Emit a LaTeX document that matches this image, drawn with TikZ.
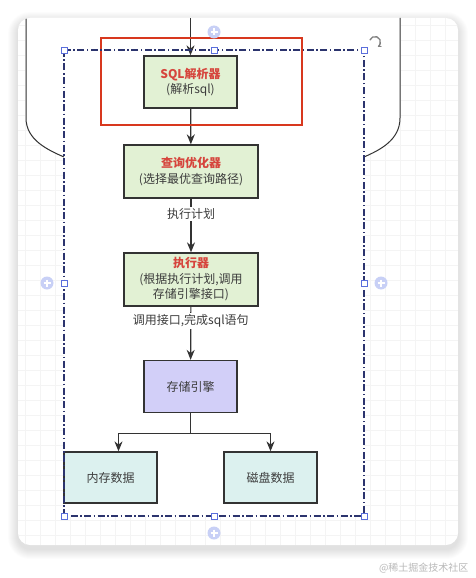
\documentclass[tikz,border=0pt]{standalone}
\usepackage{fontspec}
\setmainfont{Noto Sans CJK SC}
\usetikzlibrary{arrows.meta,positioning,calc}
\definecolor{LineD}  {RGB}{51, 51, 51}
\definecolor{TextD}  {RGB}{60, 60, 60}
\definecolor{HeadR}  {RGB}{214, 69, 61}
\definecolor{MarkR}  {RGB}{216, 56, 30}
\definecolor{GreenF} {RGB}{226, 241, 212}
\definecolor{LavF}   {RGB}{210, 207, 248}
\definecolor{CyanF}  {RGB}{220, 241, 239}
\definecolor{SelN}   {RGB}{44, 52, 110}
\definecolor{HandleB}{RGB}{90, 110, 220}
\definecolor{HandleL}{RGB}{200, 208, 246}
\definecolor{GridG}  {RGB}{244, 244, 244}

\begin{document}
\begin{tikzpicture}[x=1pt,y=-1pt,
    box/.style={draw=LineD,line width=1.3pt,align=center,text=TextD,
      font=\fontsize{12}{15.5}\selectfont,inner sep=0pt},
    flow/.style={draw=LineD,line width=1.2pt,-{Stealth[length=10pt,width=8pt]}},
    lbl/.style={fill=white,text=TextD,font=\fontsize{12}{14}\selectfont,inner sep=1.5pt},
    handle/.style={draw=HandleB,fill=white,line width=0.8pt,minimum size=6pt,inner sep=0pt}]
  \useasboundingbox (0,0) rectangle (476,578);
  \fill[white] (0,0) rectangle (476,578);
  % card with soft shadow
  \foreach \i in {1,...,10}
    \fill[black,opacity=0.012,rounded corners=12+\i]
      (18-\i,18-\i+4) rectangle (458+\i,545+\i+4);
  \fill[white,rounded corners=12] (18,18) rectangle (458,545);
  \begin{scope}
    \clip[rounded corners=12] (18,18) rectangle (458,545);
    \foreach \g in {25,40,...,460} \draw[GridG,line width=0.6pt] (\g,18) -- (\g,545);
    \foreach \g in {25,40,...,545} \draw[GridG,line width=0.6pt] (18,\g) -- (458,\g);
    % white area of the server shape and the group
    \fill[white] (26,10) -- (26,118) .. controls (26,140) and (48,150) .. (64,157)
      -- (64,516) -- (364,516) -- (364,157)
      .. controls (380,150) and (400,140) .. (400,118) -- (400,10) -- cycle;
    \draw[LineD,line width=1pt] (26,10) -- (26,118)
      .. controls (26,140) and (48,150) .. (64,157);
    \draw[LineD,line width=1pt] (400,10) -- (400,118)
      .. controls (400,140) and (380,150) .. (364,157);
  \end{scope}

  % nodes
  \node[box,fill=GreenF,minimum width=93pt,minimum height=52pt] (sqlparse) at (190.5,82)
    {{\color{HeadR}\bfseries SQL解析器}\\(解析sql)};
  \node[box,fill=GreenF,minimum width=134pt,minimum height=53pt] (optimizer) at (191,171.5)
    {{\color{HeadR}\bfseries 查询优化器}\\(选择最优查询路径)};
  \node[box,fill=GreenF,minimum width=134pt,minimum height=53pt] (executor) at (191,279.5)
    {{\color{HeadR}\bfseries 执行器}\\(根据执行计划,调用\\存储引擎接口)};
  \node[box,fill=LavF,minimum width=93pt,minimum height=52pt] (engine) at (190.5,386.5) {存储引擎};
  \node[box,fill=CyanF,minimum width=93pt,minimum height=51pt] (memdata) at (110.5,477.5) {内存数据};
  \node[box,fill=CyanF,minimum width=93pt,minimum height=51pt] (diskdata) at (270.5,477.5) {磁盘数据};
  \coordinate (entry) at (190.5,18);

  % connectors
  \draw[flow] (entry) -- (sqlparse);
  \draw[flow] (sqlparse) -- (optimizer);
  \draw[flow] (optimizer) -- node[lbl,pos=0.28]{执行计划} (executor);
  \draw[flow] (executor) -- node[lbl,pos=0.27]{调用接口,完成sql语句} (engine);
  \draw[flow] (engine.south) -- ++(0,20) -| ([xshift=8pt]memdata.north);
  \draw[flow] (engine.south) -- ++(0,20) -| (diskdata.north);

  % highlight and selection
  \draw[MarkR,line width=2.6pt] (101,38) rectangle (302,125);
  \draw[SelN,line width=1.1pt,dash pattern=on 7pt off 2.5pt on 1.5pt off 2.5pt]
    (64,50) rectangle (364,516);
  \foreach \hx/\hy in {64/50,214/50,364/50,64/283,364/283,64/516,214/516,364/516}
    \node[handle] at (\hx,\hy) {};
  \foreach \px/\py in {214/32,47/283,381/283,214/533}{
    \fill[HandleL] (\px,\py) circle (6.5);
    \draw[white,line width=1.2pt] (\px-3.5,\py) -- (\px+3.5,\py) (\px,\py-3.5) -- (\px,\py+3.5);}
  \draw[gray,line width=1.3pt,-{Stealth[length=3.5pt,width=4pt]}]
    (375,42) ++(200:5.5) arc (200:420:5.5);

  % watermark
  \node[text=gray!55,font=\fontsize{10}{12}\selectfont,anchor=east] (mark) at (472,568) {@稀土掘金技术社区};
\end{tikzpicture}
\end{document}
